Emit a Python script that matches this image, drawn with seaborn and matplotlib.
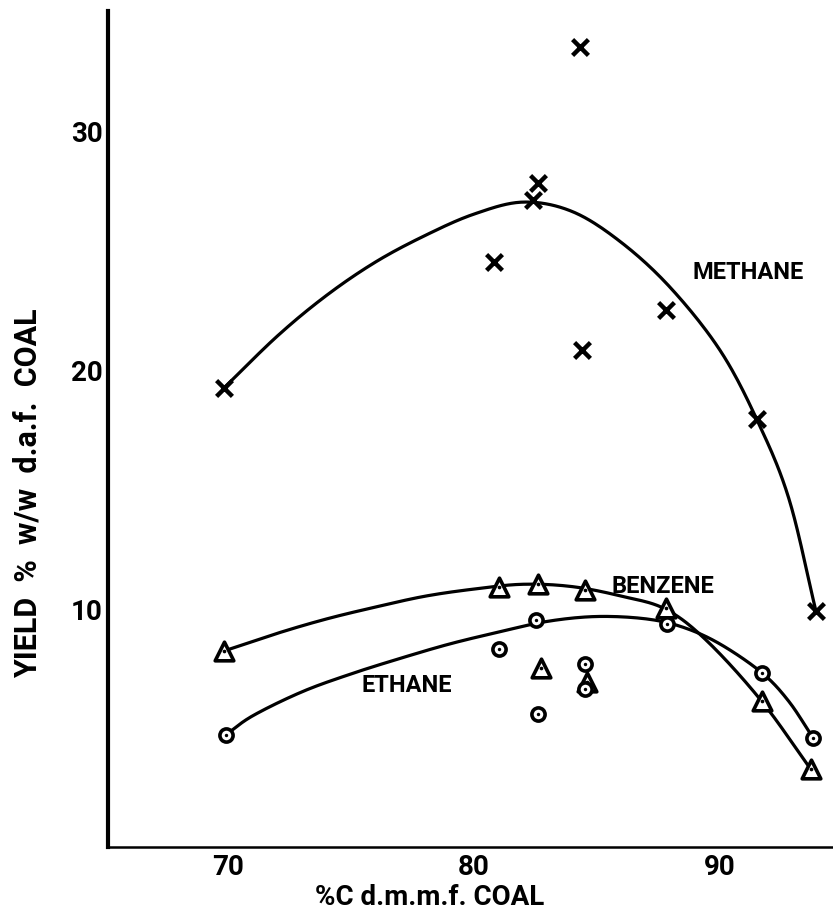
import numpy as np
import pandas as pd
import matplotlib
matplotlib.use("Agg")
import matplotlib.pyplot as plt
import seaborn as sns

sns.set_theme(style="white")
plt.rcParams['font.family'] = ['Roboto', 'DejaVu Sans']

methane_x = [69.8, 80.8, 82.4, 82.6, 84.3, 84.4, 87.8, 91.5, 93.9]
methane_y = [19.2, 24.5, 27.1, 27.8, 33.5, 20.8, 22.5, 17.9, 9.9]

benzene_x = [69.8, 81.0, 82.6, 84.5, 87.8, 91.7, 93.7, 82.7, 84.6]
benzene_y = [8.2, 10.9, 11.0, 10.75, 10.0, 6.1, 3.25, 7.5, 6.9]

ethane_x = [69.9, 81.0, 82.5, 82.6, 84.5, 84.5, 87.85, 91.7, 93.8]
ethane_y = [4.7, 8.3, 9.5, 5.55, 7.65, 6.6, 9.33, 7.3, 4.55]

# nodes along the hand-drawn trend curves
methane_cx = [69.8, 72.0, 74.0, 76.0, 78.0, 80.0, 82.0, 84.0, 86.0, 88.0, 90.0,
              91.5, 92.8, 93.9]
methane_cy = [19.2, 21.4, 23.1, 24.5, 25.6, 26.5, 27.0, 26.6, 25.3, 23.4, 20.8,
              17.9, 14.6, 9.9]

benzene_cx = [69.8, 72.0, 74.0, 76.0, 78.0, 80.0, 82.0, 84.0, 86.0, 87.8, 89.5,
              91.7, 93.7]
benzene_cy = [8.2, 8.95, 9.55, 10.05, 10.5, 10.8, 11.0, 10.9, 10.5, 9.95, 8.6,
              6.1, 3.25]

ethane_cx = [69.9, 71.0, 73.0, 75.0, 77.0, 79.0, 81.0, 83.0, 85.0, 87.0, 88.5,
             90.0, 91.7, 92.8, 93.8]
ethane_cy = [4.7, 5.5, 6.5, 7.25, 7.9, 8.5, 9.0, 9.45, 9.65, 9.55, 9.2,
             8.5, 7.3, 6.1, 4.55]

x_ticks = [70, 80, 90]
y_ticks = [10, 20, 30]


def smooth(xs, ys, n=20):
    # catmull-rom spline through the curve nodes, just for drawing
    p = np.column_stack([xs, ys]).astype(float)
    p = np.vstack([2 * p[0] - p[1], p, 2 * p[-1] - p[-2]])
    t = np.linspace(0, 1, n, endpoint=False)[:, None]
    segs = []
    for i in range(1, len(p) - 2):
        p0, p1, p2, p3 = p[i - 1], p[i], p[i + 1], p[i + 2]
        segs.append(0.5 * (2 * p1 + (p2 - p0) * t
                           + (2 * p0 - 5 * p1 + 4 * p2 - p3) * t ** 2
                           + (3 * p1 - p0 - 3 * p2 + p3) * t ** 3))
    segs.append(p[-2][None, :])
    out = np.vstack(segs)
    return out[:, 0], out[:, 1]


fig = plt.figure(figsize=(8.33, 9.12), dpi=100)
ax = fig.add_axes([108 / 833, 64 / 912, 725 / 833, 836 / 912])

for cx, cy in [(methane_cx, methane_cy), (benzene_cx, benzene_cy), (ethane_cx, ethane_cy)]:
    sx, sy = smooth(cx, cy)
    ax.plot(sx, sy, color='black', lw=2.3, solid_capstyle='round', zorder=2)

sns.scatterplot(x=methane_x, y=methane_y, marker='x', s=130, color='black',
                linewidth=3.2, ax=ax, zorder=3)
sns.scatterplot(x=benzene_x, y=benzene_y, marker='^', s=180, facecolor='white',
                edgecolor='black', linewidth=2.6, ax=ax, zorder=3)
sns.scatterplot(x=benzene_x, y=benzene_y, marker='o', s=7, color='black',
                linewidth=0, ax=ax, zorder=4)
sns.scatterplot(x=ethane_x, y=ethane_y, marker='o', s=90, facecolor='white',
                edgecolor='black', linewidth=2.6, ax=ax, zorder=3)
sns.scatterplot(x=ethane_x, y=ethane_y, marker='o', s=6, color='black',
                linewidth=0, ax=ax, zorder=4)

lab = dict(fontsize=17, fontweight='bold', color='black')
ax.text(88.9, 24.1, 'METHANE', va='center', ha='left', **lab)
ax.text(85.6, 10.95, 'BENZENE', va='center', ha='left', **lab)
ax.text(75.4, 6.8, 'ETHANE', va='center', ha='left', **lab)

ax.set_xlim(65.1, 94.6)
ax.set_ylim(0, 35)
ax.set_xticks(x_ticks)
ax.set_yticks(y_ticks)
ax.tick_params(direction='in', length=7, width=2, labelsize=20, pad=4, colors='black')
for t in ax.get_xticklabels() + ax.get_yticklabels():
    t.set_fontweight('bold')

ax.set_xlabel('%C d.m.m.f. COAL', fontsize=20, fontweight='bold', color='black')
ax.xaxis.set_label_coords(0.444, -0.043)
ax.set_ylabel('YIELD  %  w/w  d.a.f.  COAL', fontsize=22, fontweight='bold', color='black')
ax.yaxis.set_label_coords(-0.09, 0.425)

sns.despine(ax=ax)
ax.spines['left'].set_linewidth(3)
ax.spines['bottom'].set_linewidth(1.8)
ax.spines['left'].set_color('black')
ax.spines['bottom'].set_color('black')
ax.grid(False)

fig.savefig('out.png', dpi=100)
